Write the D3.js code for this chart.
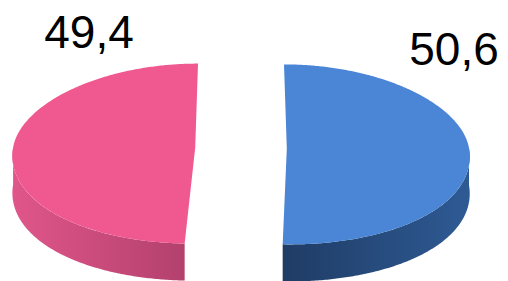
<!DOCTYPE html>
<html>
<head>
<meta charset="utf-8">
<script src="https://cdn.jsdelivr.net/npm/d3@7"></script>
<style>
  html, body { margin: 0; padding: 0; background: #fff; }
  svg { display: block; }
</style>
</head>
<body>
<div id="chart"></div>
<script>
'use strict';

// slices, clockwise from 12 o'clock
const values     = [50.6, 49.4]
const topColors  = ['#4a85d6', '#f0598f']
const wallLight  = ['#2e5a94', '#e0568a']
const wallDark   = ['#1f3c65', '#b3416d']

const width  = 508
const height = 281

// pie geometry (screen pixels)
const cx      = 241
const cy      = 148
const rx      = 171
const ryBack  = 84
const ryFront = 96
const depth   = 37
const explode = 43
const persp   = 0.14   // x widening from back to front

// label anchors, relative to the slice's top point
const labelAt = [[170, -15], [-109, -32]]

const fmt = d3.formatLocale({decimal: ',', thousands: '.', grouping: [3], currency: ['', '']}).format('.1f')

const svg = d3.select('#chart')
  .append('svg')
  .attr('width',  width)
  .attr('height', height)

const defs = svg.append('defs')
values.forEach((v, i) => {
  const g = defs.append('linearGradient')
    .attr('id', `wall${i}`)
    .attr('x1', i === 0 ? '100%' : '0%').attr('x2', i === 0 ? '0%' : '100%')
    .attr('y1', '0%').attr('y2', '0%')
  g.append('stop').attr('offset', '0%').attr('stop-color', wallLight[i])
  g.append('stop').attr('offset', '100%').attr('stop-color', wallDark[i])
})

const arcs = d3.pie().sort(null).value((d) => d)(values)

const yTop = cy - ryBack
const yBot = cy + ryFront
const project = ([x, y]) => {
  const t = (y - yTop) / (yBot - yTop)
  return [cx + (x - cx) * (1 + persp * t), y]
}
const pt = (a, ox, oy, dz) => {
  const c  = Math.cos(a)
  const ry = c > 0 ? ryBack : ryFront
  const p  = project([ox + rx * Math.sin(a), oy - ry * c])
  return [p[0], p[1] + (dz || 0)]
}
const line = d3.line()
const samples = (a0, a1) => {
  const n = Math.max(2, Math.ceil((a1 - a0) / 0.01))
  return d3.range(n + 1).map((k) => a0 + (a1 - a0) * k / n)
}

arcs.forEach((arc, i) => {
  const mid = (arc.startAngle + arc.endAngle) / 2
  const ox  = cx + explode * Math.sin(mid)
  const oy  = cy - explode * Math.cos(mid) * (ryBack / rx)
  const g   = svg.append('g').attr('class', 'slice')

  // outer wall: only the front half of the ellipse shows
  const w0 = Math.max(arc.startAngle, Math.PI / 2)
  const w1 = Math.min(arc.endAngle, Math.PI * 1.5)
  if (w1 > w0) {
    const upper = samples(w0, w1).map((a) => pt(a, ox, oy))
    const lower = samples(w0, w1).reverse().map((a) => pt(a, ox, oy, depth))
    g.append('path')
      .attr('d', line(upper.concat(lower)) + 'Z')
      .attr('fill', `url(#wall${i})`)
  }

  // top face
  const rim = samples(arc.startAngle, arc.endAngle).map((a) => pt(a, ox, oy))
  g.append('path')
    .attr('d', line([project([ox, oy])].concat(rim)) + 'Z')
    .attr('fill', topColors[i])

  const top = pt(0, ox, oy)
  g.append('text')
    .attr('x', top[0] + labelAt[i][0])
    .attr('y', top[1] + labelAt[i][1])
    .attr('text-anchor', 'middle')
    .attr('dominant-baseline', 'central')
    .attr('font-family', 'Liberation Sans, Arial, sans-serif')
    .attr('font-size', 46)
    .attr('fill', '#000')
    .text(fmt(arc.data))
})
</script>
</body>
</html>
